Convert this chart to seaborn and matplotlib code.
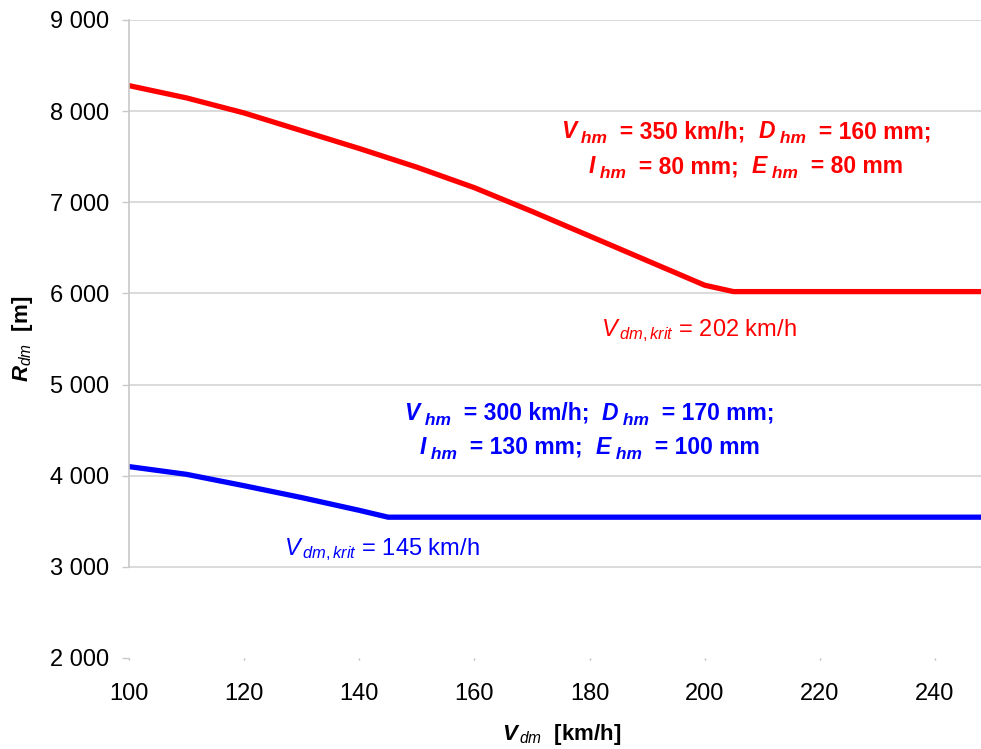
import pandas as pd
import matplotlib.pyplot as plt
import seaborn as sns
from matplotlib.transforms import offset_copy

# Curve values
speed_red = [100, 110, 120, 130, 140, 150, 160, 170, 180, 190, 200, 205, 250]
radius_red = [8280, 8145, 7980, 7785, 7590, 7385, 7160, 6900, 6630, 6360, 6090, 6020, 6020]
speed_blue = [100, 110, 120, 130, 140, 145, 250]
radius_blue = [4100, 4015, 3890, 3760, 3620, 3545, 3545]

x_ticks = [100, 120, 140, 160, 180, 200, 220, 240]
y_ticks = [2000, 3000, 4000, 5000, 6000, 7000, 8000, 9000]
y_tick_labels = ["2 000", "3 000", "4 000", "5 000", "6 000", "7 000", "8 000", "9 000"]

# parameter lines: (symbol, value text) pairs, symbol gets an "hm" subscript
red_lines = [[("V", "  = 350 km/h;  "), ("D", "  = 160 mm;")],
             [("I", "  = 80 mm;  "), ("E", "  = 80 mm")]]
blue_lines = [[("V", "  = 300 km/h;  "), ("D", "  = 170 mm;")],
              [("I", "  = 130 mm;  "), ("E", "  = 100 mm")]]
red_krit = "$\\mathit{V}_{\\,\\mathit{dm,krit}}$ = 202 km/h"
blue_krit = "$\\mathit{V}_{\\,\\mathit{dm,krit}}$ = 145 km/h"

df = pd.concat([
    pd.DataFrame({"speed": speed_red, "radius": radius_red, "case": "red"}),
    pd.DataFrame({"speed": speed_blue, "radius": radius_blue, "case": "blue"}),
])

sns.set_style("white")
plt.rcParams["font.family"] = ["Liberation Sans", "DejaVu Sans"]
plt.rcParams["mathtext.fontset"] = "custom"
plt.rcParams["mathtext.rm"] = "Liberation Sans"
plt.rcParams["mathtext.it"] = "Liberation Sans:italic"
plt.rcParams["mathtext.bf"] = "Liberation Sans:bold"
plt.rcParams["mathtext.bfit"] = "Liberation Sans:italic:bold"

fig = plt.figure(figsize=(9.81, 7.49), dpi=100)
ax = fig.add_axes([0.1315, 0.1215, 0.8685, 0.8518])

sns.lineplot(data=df, x="speed", y="radius", hue="case",
             palette={"red": "#ff0000", "blue": "#0000ff"},
             linewidth=3.8, estimator=None, sort=False, legend=False, ax=ax)

ax.set_xlim(100, 248)
ax.set_ylim(2000, 9000)
ax.set_xticks(x_ticks)
ax.set_yticks(y_ticks)
ax.set_yticklabels(y_tick_labels)

# light horizontal grid and left axis only between 3000 and 9000
ax.grid(axis="y", color="#d4d4d4", linewidth=1.2)
ax.grid(axis="x", visible=False)
ax.set_axisbelow(True)
ax.yaxis.get_major_ticks()[0].gridline.set_visible(False)
ax.yaxis.get_major_ticks()[0].tick1line.set_visible(False)
for side in ["top", "right", "bottom"]:
    ax.spines[side].set_visible(False)
ax.spines["left"].set_bounds(3000, 9000)
ax.spines["left"].set_color("#c8c8c8")
ax.spines["left"].set_linewidth(1.2)

ax.tick_params(axis="y", left=True, length=5, width=1, color="#c8c8c8", pad=9,
               labelsize=17, labelcolor="black")
ax.tick_params(axis="x", bottom=True, length=1.2, width=1, color="#bbbbbb", pad=17,
               labelsize=17, labelcolor="black")

ax.set_xlabel("$\\mathbfit{V}_{\\,\\mathit{dm}}$  [km/h]", fontsize=16, fontweight="bold", color="black")
ax.set_ylabel("$\\mathbfit{R}_{\\mathit{dm}}$  [m]", fontsize=16, fontweight="bold", color="black")
ax.xaxis.set_label_coords(0.508, -0.10)
ax.yaxis.set_label_coords(-0.11, 0.5)

renderer = fig.canvas.get_renderer()


def rich_line(x, y, pairs, color, size=16.5, sub_size=12.5):
    # draw "X hm = ..." pieces one after another, centred on x, baseline at y
    parts = []
    for sym, rest in pairs:
        parts.append((sym, size, "italic", 0))
        parts.append((" hm", sub_size, "italic", -5))
        parts.append((rest, size, "normal", 0))
    texts, widths = [], []
    for s, fs, style, dy in parts:
        t = ax.text(x, y, s, fontsize=fs, style=style, fontweight="bold", color=color,
                    ha="left", va="baseline")
        texts.append(t)
        widths.append(t.get_window_extent(renderer).width)
    off = -sum(widths) / 2
    for t, w, p in zip(texts, widths, parts):
        t.set_transform(offset_copy(ax.transData, fig=fig, x=off, y=p[3], units="dots"))
        off += w


rich_line(207.2, 7703, red_lines[0], "#ff0000")
rich_line(207.2, 7319, red_lines[1], "#ff0000")
rich_line(180.0, 4614, blue_lines[0], "#0000ff")
rich_line(180.0, 4241, blue_lines[1], "#0000ff")

ax.text(198.9, 5527, red_krit, color="#ff0000", fontsize=17, ha="center", va="baseline")
ax.text(143.9, 3126, blue_krit, color="#0000ff", fontsize=17, ha="center", va="baseline")

plt.savefig("out.png", dpi=100)
